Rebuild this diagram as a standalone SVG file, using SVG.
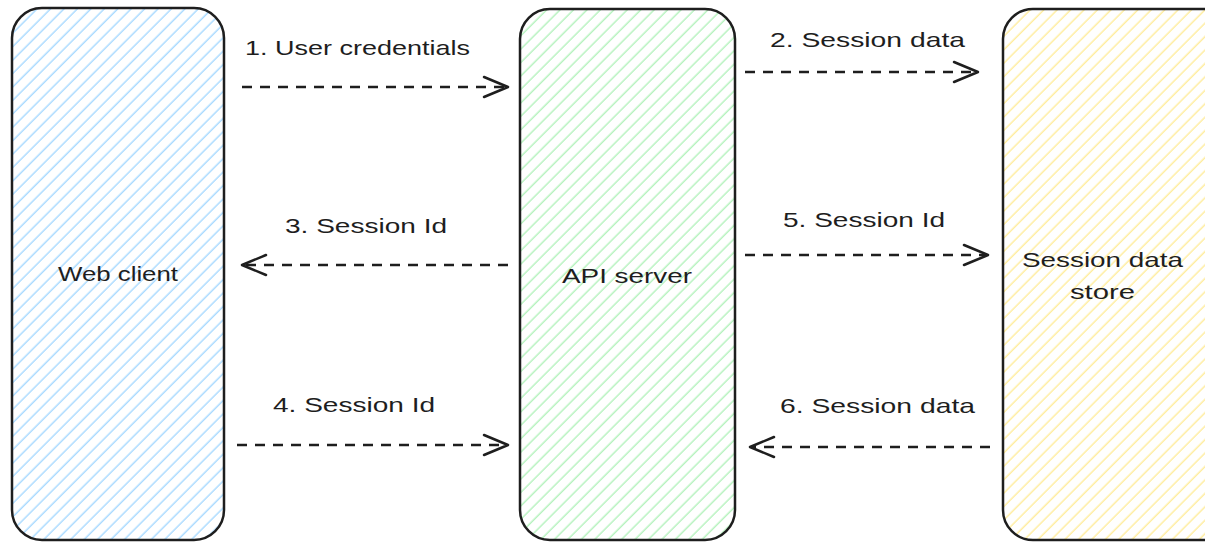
<svg xmlns="http://www.w3.org/2000/svg" width="1205" height="545" viewBox="0 0 1205 545">
<defs>
<pattern id="hb" patternUnits="userSpaceOnUse" width="10" height="9.5" patternTransform="rotate(-45)"><line x1="0" y1="4" x2="10" y2="4" stroke="#a5d8ff" stroke-width="1.4"/></pattern>
<pattern id="hg" patternUnits="userSpaceOnUse" width="10" height="9.5" patternTransform="rotate(-45)"><line x1="0" y1="4" x2="10" y2="4" stroke="#b2f2bb" stroke-width="1.4"/></pattern>
<pattern id="hy" patternUnits="userSpaceOnUse" width="10" height="9.5" patternTransform="rotate(-45)"><line x1="0" y1="4" x2="10" y2="4" stroke="#ffec99" stroke-width="1.4"/></pattern>
</defs>
<style>
.box{stroke:#1e1e1e;stroke-width:2.5}
.lbl{font-family:"Liberation Sans",sans-serif;font-size:21px;fill:#1e1e1e}
.dash{fill:none;stroke:#1e1e1e;stroke-width:2.5;stroke-dasharray:10 8}
.head{fill:none;stroke:#1e1e1e;stroke-width:2.5;stroke-linecap:round;stroke-linejoin:round}
</style>
<rect width="1205" height="545" fill="#ffffff"/>
<g id="web-client">
<rect class="box" x="12" y="8" width="212" height="532" rx="30" fill="url(#hb)"/>
<text class="lbl" x="58" y="281" textLength="120" lengthAdjust="spacingAndGlyphs">Web client</text>
</g>
<g id="api-server">
<rect class="box" x="520" y="9" width="215" height="531" rx="30" fill="url(#hg)"/>
<text class="lbl" x="562" y="283" textLength="130" lengthAdjust="spacingAndGlyphs">API server</text>
</g>
<g id="session-store">
<rect class="box" x="1003" y="9" width="230" height="531" rx="30" fill="url(#hy)"/>
<text class="lbl" x="1022" y="267" textLength="161" lengthAdjust="spacingAndGlyphs">Session data</text>
<text class="lbl" x="1070" y="299" textLength="65" lengthAdjust="spacingAndGlyphs">store</text>
</g>
<g id="connectors">
<path class="dash" d="M242 87 H505"/>
<path class="head" d="M484 77 L508 87 L484 97"/>
<text class="lbl" x="245" y="55" textLength="225" lengthAdjust="spacingAndGlyphs">1. User credentials</text>
<path class="dash" d="M745 72 H975"/>
<path class="head" d="M954 62 L978 72 L954 82"/>
<text class="lbl" x="770" y="47" textLength="195" lengthAdjust="spacingAndGlyphs">2. Session data</text>
<path class="dash" d="M508 265 H245"/>
<path class="head" d="M266 255 L242 265 L266 275"/>
<text class="lbl" x="285" y="233" textLength="162" lengthAdjust="spacingAndGlyphs">3. Session Id</text>
<path class="dash" d="M237 445 H505"/>
<path class="head" d="M484 435 L508 445 L484 455"/>
<text class="lbl" x="273" y="412" textLength="162" lengthAdjust="spacingAndGlyphs">4. Session Id</text>
<path class="dash" d="M745 255 H985"/>
<path class="head" d="M964 245 L988 255 L964 265"/>
<text class="lbl" x="783" y="227" textLength="162" lengthAdjust="spacingAndGlyphs">5. Session Id</text>
<path class="dash" d="M990 447 H753"/>
<path class="head" d="M774 437 L750 447 L774 457"/>
<text class="lbl" x="780" y="413" textLength="195" lengthAdjust="spacingAndGlyphs">6. Session data</text>
</g>
</svg>
